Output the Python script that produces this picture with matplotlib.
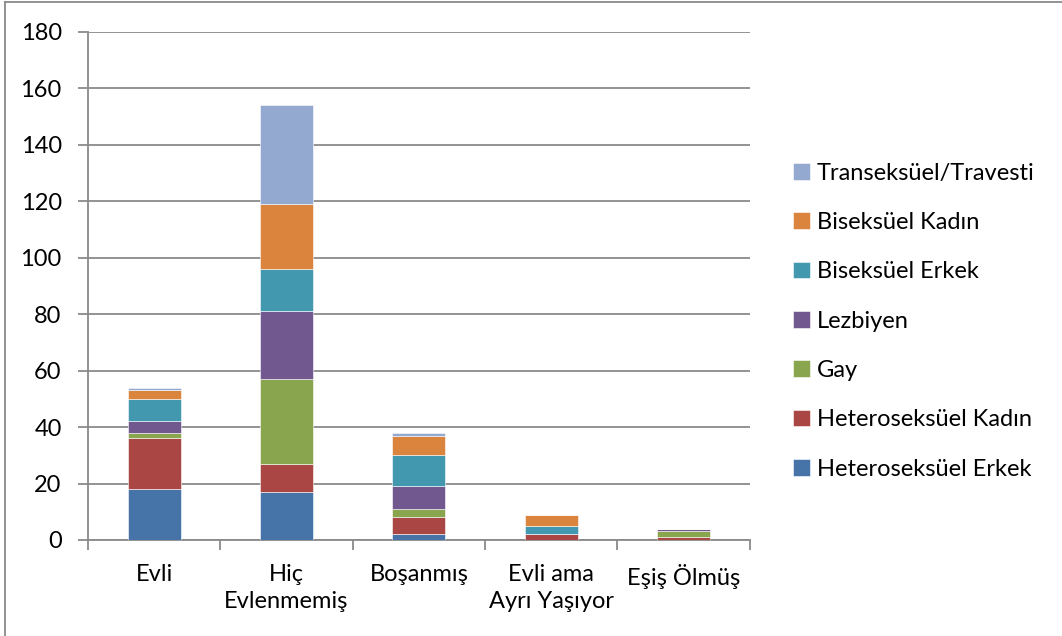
import matplotlib
matplotlib.use('Agg')
import matplotlib.pyplot as plt
import numpy as np
from matplotlib.lines import Line2D

plt.rcParams['font.family'] = ['Lato', 'DejaVu Sans']

# kategoriler (x ekseni)
categories = ['Evli', 'Hiç\nEvlenmemiş', 'Boşanmış', 'Evli ama\nAyrı Yaşıyor', 'Eşiş Ölmüş']

# seriler (alttan üste)
series_names = ['Heteroseksüel Erkek', 'Heteroseksüel Kadın', 'Gay', 'Lezbiyen',
                'Biseksüel Erkek', 'Biseksüel Kadın', 'Transeksüel/Travesti']
hetero_erkek = [18, 17, 2, 0, 0]
hetero_kadin = [18, 10, 6, 2, 1]
gay = [2, 30, 3, 0, 2]
lezbiyen = [4, 24, 8, 0, 1]
bi_erkek = [8, 15, 11, 3, 0]
bi_kadin = [3, 23, 7, 4, 0]
trans = [1, 35, 1, 0, 0]

colors = ['#4674A8', '#AA4643', '#89A54E', '#71588F', '#4198AF', '#DB843D', '#93A9CF']

fig = plt.figure(figsize=(10.62, 6.36), dpi=100)
ax = fig.add_axes([0.0829, 0.151, 0.623, 0.799])

x = np.arange(len(categories))
bottom = np.zeros(len(categories))
for name, vals, c in zip(series_names,
                         [hetero_erkek, hetero_kadin, gay, lezbiyen, bi_erkek, bi_kadin, trans],
                         colors):
    vals = np.array(vals, dtype=float)
    ax.bar(x, vals, 0.4, bottom=bottom, color=c, label=name,
           edgecolor='white', linewidth=0.4, zorder=3)
    bottom += vals

ax.set_xlim(-0.5, len(categories) - 0.5)
ax.set_ylim(0, 180)
ax.set_yticks(range(0, 181, 20))
ax.grid(True, axis='y', color='#8a8a8a', linewidth=1.3, zorder=0)
ax.set_axisbelow(True)

for s in ['top', 'right']:
    ax.spines[s].set_visible(False)
for s in ['left', 'bottom']:
    ax.spines[s].set_color('#8a8a8a')
    ax.spines[s].set_linewidth(1.3)

ax.set_xticks(x)
ax.set_xticklabels(categories, fontsize=17, linespacing=1.35)
ax.tick_params(axis='x', length=0, pad=17)
# kategori ayırıcı çizgiler
ax.set_xticks(np.arange(-0.5, len(categories)), minor=True)
ax.tick_params(axis='x', which='minor', length=7, color='#8a8a8a', width=1.3)
ax.tick_params(axis='y', labelsize=17, length=7, color='#8a8a8a', width=1.3, pad=12)

handles, labels = ax.get_legend_handles_labels()
leg = fig.legend(handles[::-1], labels[::-1], loc='center left',
                 bbox_to_anchor=(0.736, 0.495), frameon=False, fontsize=17,
                 handlelength=0.7, handleheight=0.7, handletextpad=0.3,
                 labelspacing=1.2, borderpad=0)

# çerçeve (sol ve üst)
fig.add_artist(Line2D([5 / 1062, 5 / 1062], [0, 634 / 636], color='#8a8a8a', linewidth=1.3))
fig.add_artist(Line2D([5 / 1062, 1], [634 / 636, 634 / 636], color='#8a8a8a', linewidth=1.3))

fig.savefig('out.png', dpi=100)
